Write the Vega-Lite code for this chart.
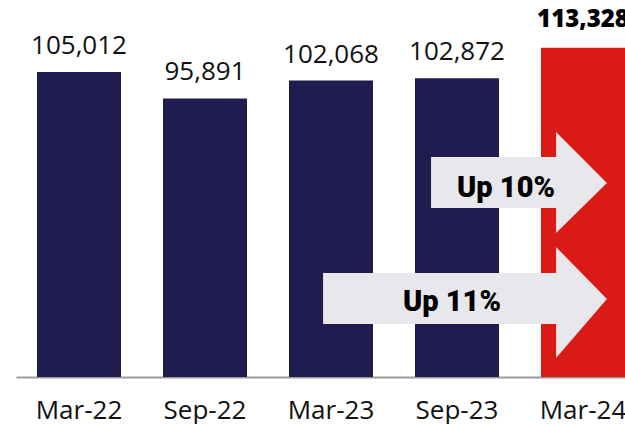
{
  "$schema": "https://vega.github.io/schema/vega-lite/v6.json",
  "width": 630,
  "height": 377,
  "autosize": {"type": "none"},
  "padding": {"left": 16, "top": 0, "right": 0, "bottom": 47},
  "background": "white",
  "config": {"view": {"stroke": null}},
  "datasets": {
    "bars": [
      {"period": "Mar-22", "value": 105012},
      {"period": "Sep-22", "value": 95891},
      {"period": "Mar-23", "value": 102068},
      {"period": "Sep-23", "value": 102872},
      {"period": "Mar-24", "value": 113328}
    ],
    "arrowBody": [
      {"label": "Up 10%", "x0": 3.294, "x1": 4.29, "top": 75758, "bottom": 58196, "tx": 3.889, "ty": 61973},
      {"label": "Up 11%", "x0": 2.437, "x1": 4.29, "top": 35813, "bottom": 18251, "tx": 3.46, "ty": 22723}
    ],
    "arrowHead": [
      {"label": "Up 10%", "x": 4.286, "top": 84366, "bottom": 49587},
      {"label": "Up 10%", "x": 4.69, "top": 66804, "bottom": 66804},
      {"label": "Up 11%", "x": 4.286, "top": 44766, "bottom": 6543},
      {"label": "Up 11%", "x": 4.69, "top": 26860, "bottom": 26860}
    ]
  },
  "layer": [
    {
      "data": {"name": "bars"},
      "encoding": {
        "x": {
          "field": "period", "type": "nominal", "sort": null,
          "scale": {"paddingInner": 0.3333, "paddingOuter": 0.16667},
          "axis": {
            "title": null, "ticks": false, "domainColor": "#9a9a9a", "domainWidth": 2,
            "labelFont": "Open Sans", "labelFontSize": 26, "labelColor": "#111111",
            "labelPadding": 20, "labelAngle": 0
          }
        },
        "y": {
          "field": "value", "type": "quantitative",
          "scale": {"domain": [0, 129800], "nice": false, "zero": true},
          "axis": null
        }
      },
      "layer": [
        {
          "mark": {"type": "bar"},
          "encoding": {
            "color": {
              "condition": {"test": "datum.period === 'Mar-24'", "value": "#d91a15"},
              "value": "#201c4f"
            }
          }
        },
        {
          "mark": {"type": "text", "baseline": "alphabetic", "dy": -18, "font": "Open Sans", "fontSize": 26, "color": "#111111"},
          "transform": [{"filter": "datum.period !== 'Mar-24'"}],
          "encoding": {"text": {"field": "value", "type": "quantitative", "format": ",d"}}
        },
        {
          "mark": {"type": "text", "baseline": "alphabetic", "dy": -21, "font": "Open Sans", "fontSize": 24, "fontWeight": 800, "color": "#000000"},
          "transform": [{"filter": "datum.period === 'Mar-24'"}],
          "encoding": {"text": {"field": "value", "type": "quantitative", "format": ",d"}}
        }
      ]
    },
    {
      "layer": [
        {
          "data": {"name": "arrowBody"},
          "mark": {"type": "rect", "color": "#e8e7ec"},
          "encoding": {
            "x": {"field": "x0", "type": "quantitative", "scale": {"domain": [0, 5], "nice": false, "zero": false}, "axis": null},
            "x2": {"field": "x1"},
            "y": {"field": "top", "type": "quantitative", "scale": {"domain": [0, 129800], "nice": false}, "axis": null},
            "y2": {"field": "bottom"}
          }
        },
        {
          "data": {"name": "arrowHead"},
          "mark": {"type": "area", "color": "#e8e7ec", "orient": "vertical"},
          "encoding": {
            "x": {"field": "x", "type": "quantitative", "scale": {"domain": [0, 5], "nice": false, "zero": false}, "axis": null},
            "y": {"field": "top", "type": "quantitative", "scale": {"domain": [0, 129800], "nice": false}, "axis": null},
            "y2": {"field": "bottom"},
            "detail": {"field": "label", "type": "nominal"}
          }
        },
        {
          "data": {"name": "arrowBody"},
          "mark": {"type": "text", "font": "Roboto", "fontSize": 29, "fontWeight": 900, "color": "#000000", "baseline": "alphabetic"},
          "encoding": {
            "x": {"field": "tx", "type": "quantitative", "scale": {"domain": [0, 5], "nice": false, "zero": false}, "axis": null},
            "y": {"field": "ty", "type": "quantitative", "scale": {"domain": [0, 129800], "nice": false}, "axis": null},
            "text": {"field": "label"}
          }
        }
      ]
    }
  ],
  "resolve": {"scale": {"x": "independent"}, "axis": {"x": "independent"}}
}
